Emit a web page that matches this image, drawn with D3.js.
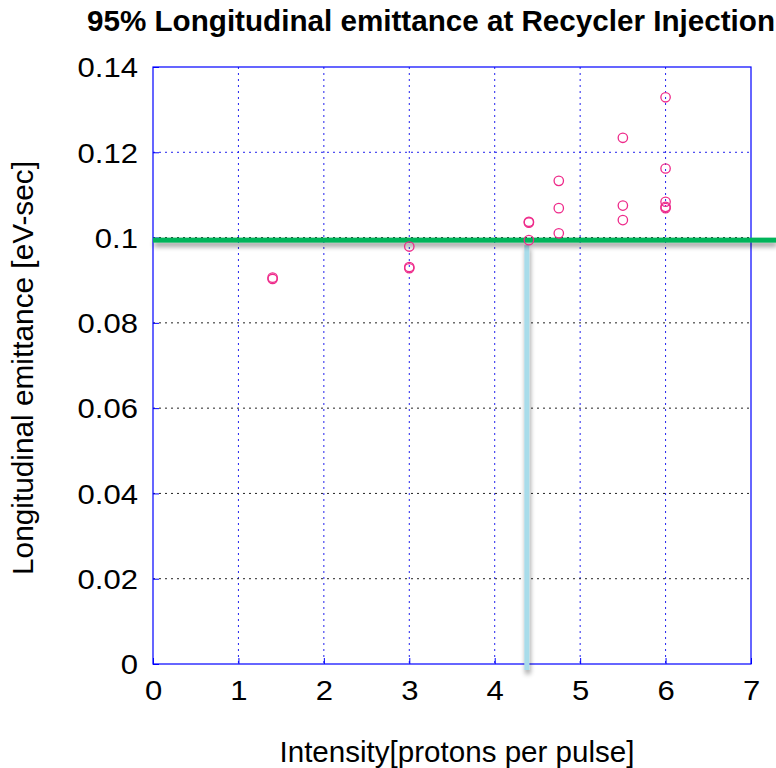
<!DOCTYPE html>
<html><head><meta charset="utf-8">
<script src="https://cdn.jsdelivr.net/npm/d3@7"></script>
<style>body{margin:0;background:#fff;} svg{display:block;font-family:"Liberation Sans",Arial,sans-serif;}</style>
</head><body>
<svg id="c" width="776" height="768"></svg>
<script>
const title = "95% Longitudinal emittance at Recycler Injection";
const xLabel = "Intensity[protons per pulse]";
const yLabel = "Longitudinal emittance [eV-sec]";
const xTicks = [0,1,2,3,4,5,6,7];
const yTicks = [0,0.02,0.04,0.06,0.08,0.1,0.12,0.14];
const intensity = [1.4,1.4,3,3,3,4.4,4.4,4.4,4.75,4.75,4.75,5.5,5.5,5.5,6,6,6,6,6];
const emittance = [0.0903,0.0906,0.0979,0.0928,0.0931,0.1037,0.1035,0.0994,0.1133,0.1069,0.1010,0.1234,0.1075,0.1041,0.1329,0.1162,0.1084,0.1069,0.1072];
const limitEmittance = 0.0994;
const limitIntensity = 4.376;

const svg = d3.select("#c");
const m = {l:153, r:751, t:67, b:664};
const x = d3.scaleLinear().domain([0,7]).range([m.l,m.r]);
const y = d3.scaleLinear().domain([0,0.14]).range([m.b,m.t]);

const defs = svg.append("defs");
const f = defs.append("filter").attr("id","sh").attr("filterUnits","userSpaceOnUse")
  .attr("x",0).attr("y",0).attr("width",776).attr("height",768);
f.append("feGaussianBlur").attr("in","SourceAlpha").attr("stdDeviation",2.5).attr("result","b");
f.append("feOffset").attr("in","b").attr("dx",1).attr("dy",4).attr("result","o");
f.append("feComponentTransfer").attr("in","o").attr("result","o2").append("feFuncA").attr("type","linear").attr("slope",0.4);
const mg = f.append("feMerge"); mg.append("feMergeNode").attr("in","o2"); mg.append("feMergeNode").attr("in","SourceGraphic");

// grid
svg.append("g").selectAll("line").data(xTicks.slice(1,-1)).join("line")
  .attr("x1",d=>x(d)).attr("x2",d=>x(d)).attr("y1",m.t).attr("y2",m.b)
  .attr("stroke","#2222ee").attr("stroke-width",1).attr("stroke-dasharray","2,4");
svg.append("g").selectAll("line").data(yTicks.slice(1,-1)).join("line")
  .attr("x1",m.l).attr("x2",m.r).attr("y1",d=>y(d)).attr("y2",d=>y(d))
  .attr("stroke",d=>d>0.11?"#2222ee":"#222").attr("stroke-width",1).attr("stroke-dasharray","2,4");

// axes (ticks inward)
const gx = svg.append("g").attr("transform",`translate(0,${m.b})`)
  .call(d3.axisBottom(x).tickValues(xTicks).tickFormat(d3.format("d")).tickSize(-6));
const gy = svg.append("g").attr("transform",`translate(${m.l},0)`)
  .call(d3.axisLeft(y).tickValues(yTicks).tickFormat(d=>d===0?"0":String(+d.toFixed(2))).tickSize(-6));
[gx,gy].forEach(g=>{
  g.select(".domain").remove();
  g.selectAll(".tick line").attr("stroke","#0000ff");
  g.selectAll(".tick text").attr("fill","#000").attr("font-size",27)
    .attr("font-family","Liberation Sans, Arial, sans-serif");
});
gx.selectAll(".tick text").attr("x",0).attr("y",0).attr("dy",null)
  .attr("transform","translate(0,36) scale(1.15,1)");
gy.selectAll(".tick text").attr("x",0).attr("dy","0.36em")
  .attr("transform","translate(-15,0) scale(1.15,1)");

svg.append("rect").attr("x",m.l).attr("y",m.t).attr("width",m.r-m.l).attr("height",m.b-m.t)
  .attr("fill","none").attr("stroke","#0000ff").attr("stroke-width",1.2);

// overlay lines
svg.append("rect").attr("x",x(limitIntensity)-2.5).attr("width",5)
  .attr("y",y(limitEmittance)+5).attr("height",m.b+6-(y(limitEmittance)+5))
  .attr("fill","#a8dcea").attr("filter","url(#sh)");
svg.append("rect").attr("x",m.l).attr("width",776-m.l)
  .attr("y",y(limitEmittance)-2.5).attr("height",5)
  .attr("fill","#00b45a").attr("filter","url(#sh)");

// points
svg.append("g").selectAll("circle").data(intensity.map((v,i)=>[v,emittance[i]])).join("circle")
  .attr("cx",d=>x(d[0])).attr("cy",d=>y(d[1])).attr("r",4.7)
  .attr("fill","none").attr("stroke","#ee2a8a").attr("stroke-width",1.3);

// labels
svg.append("text").attr("x",431).attr("y",31).attr("text-anchor","middle")
  .attr("font-size",29).attr("font-weight","bold").attr("textLength",688).attr("lengthAdjust","spacingAndGlyphs").text(title);
svg.append("text").attr("x",457).attr("y",762).attr("text-anchor","middle")
  .attr("font-size",29).attr("textLength",355).attr("lengthAdjust","spacingAndGlyphs").text(xLabel);
svg.append("text").attr("transform","translate(33,368) rotate(-90)").attr("text-anchor","middle")
  .attr("font-size",29).attr("textLength",414).attr("lengthAdjust","spacingAndGlyphs").text(yLabel);
</script>
</body></html>
